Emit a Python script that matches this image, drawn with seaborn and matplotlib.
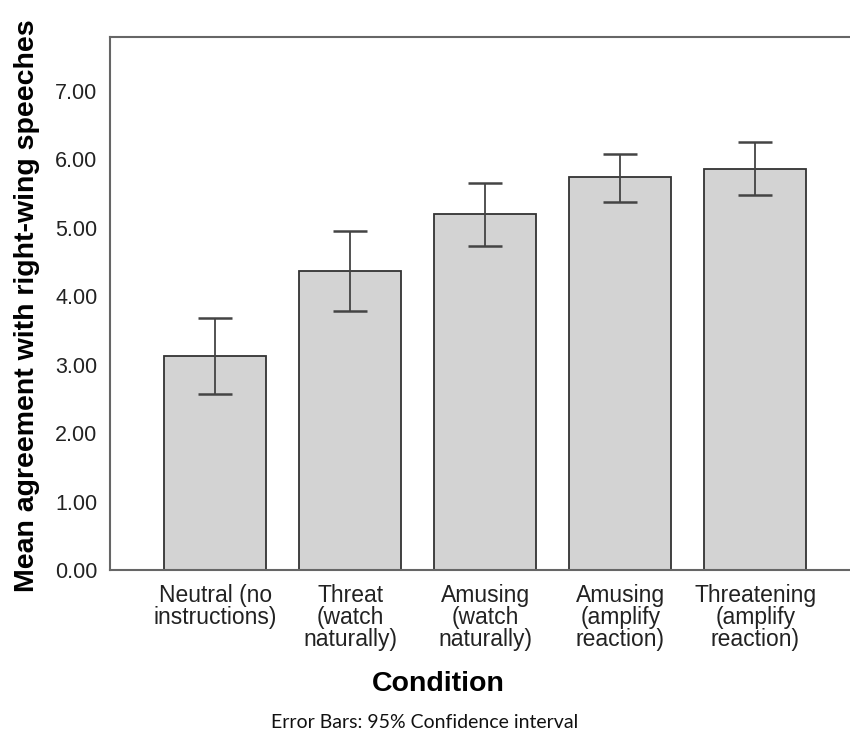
import numpy as np
import pandas as pd
import seaborn as sns
import matplotlib.pyplot as plt

# Condition means with 95% CI bounds
conditions = ["Neutral (no\ninstructions)", "Threat\n(watch\nnaturally)",
              "Amusing\n(watch\nnaturally)", "Amusing\n(amplify\nreaction)",
              "Threatening\n(amplify\nreaction)"]
means = [3.13, 4.37, 5.20, 5.74, 5.86]
ci_low = [2.57, 3.78, 4.73, 5.38, 5.48]
ci_high = [3.69, 4.96, 5.65, 6.08, 6.25]
yticks = [0, 1, 2, 3, 4, 5, 6, 7]

df = pd.DataFrame({"Condition": conditions, "Mean": means})

sns.set_style("white")
plt.rcParams['font.family'] = ['Liberation Sans', 'DejaVu Sans']

fig = plt.figure(figsize=(8.5, 7.37), dpi=100)
ax = fig.add_axes([110 / 850, 1 - 570 / 737, 1 - 110 / 850, (570 - 37) / 737])

sns.barplot(data=df, x="Condition", y="Mean", color="#d3d3d3", width=0.755,
            edgecolor="#333333", linewidth=1.3, errorbar=None, saturation=1, ax=ax)

lo = np.array(means) - np.array(ci_low)
hi = np.array(ci_high) - np.array(means)
ax.errorbar(np.arange(len(means)), means, yerr=[lo, hi], fmt="none",
            ecolor="#444444", elinewidth=1.3, capsize=12, capthick=1.8)

ax.set_xlim(-0.778, 4.70)
ax.set_ylim(0, 7.79)
ax.set_yticks(yticks)
ax.set_yticklabels([f"{v:.2f}" for v in yticks])

for side in ["left", "top", "bottom"]:
    ax.spines[side].set_color("#666666")
    ax.spines[side].set_linewidth(1.5)
ax.spines["right"].set_visible(False)

ax.tick_params(axis="both", which="both", direction="out", length=7, width=1.2,
               color="#555555", labelcolor="#222222", pad=2)
ax.tick_params(axis="y", labelsize=15.5)
ax.tick_params(axis="x", labelsize=16.5, pad=3)
for lab in ax.get_xticklabels():
    lab.set_linespacing(0.95)

ax.set_xlabel("Condition", fontsize=20.5, fontweight="bold", color="black")
ax.xaxis.set_label_coords(0.443, -0.19)
ax.set_ylabel("Mean agreement with right-wing speeches", fontsize=20.5,
              fontweight="bold", color="black")
ax.yaxis.set_label_coords(-0.095, 0.495)

fig.text(0.5, 1 - 722 / 737, "Error Bars: 95% Confidence interval", ha="center",
         va="center", fontsize=14, family=["Lato", "DejaVu Sans"], color="#111111")

fig.savefig("out.png", dpi=100)
